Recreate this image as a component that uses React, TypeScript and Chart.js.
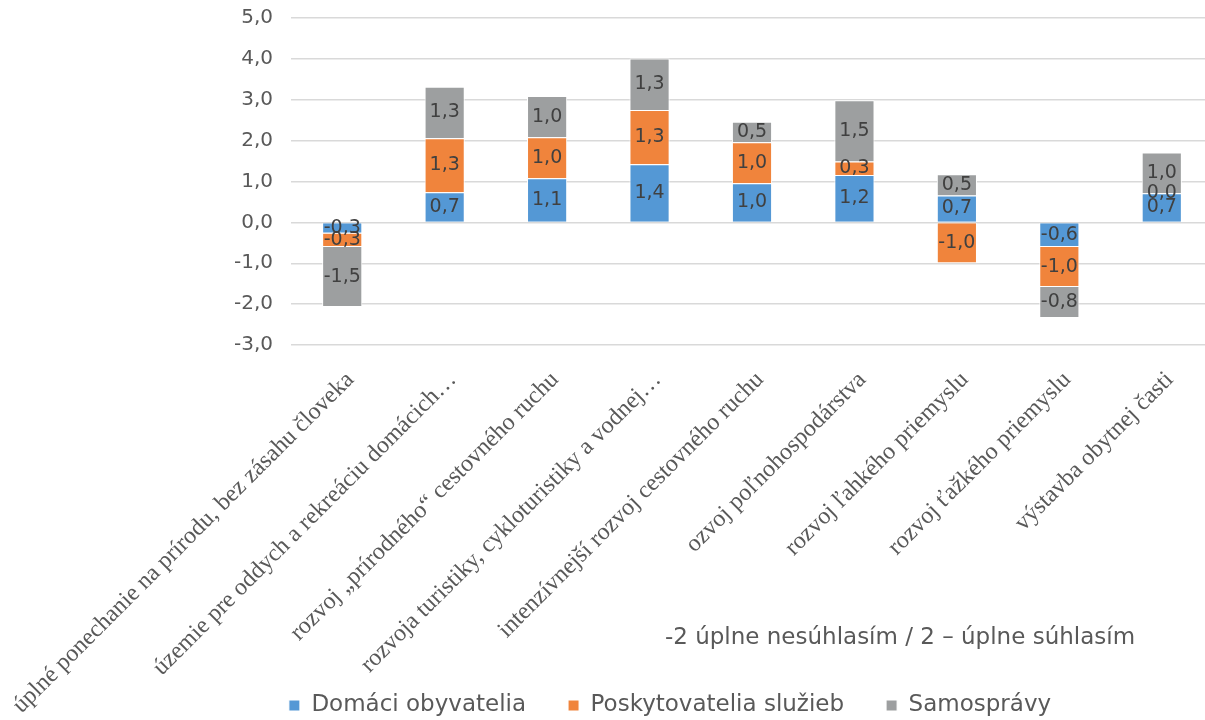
import React, { useEffect, useRef } from "react";
import { Chart, registerables } from "chart.js";
Chart.register(...registerables);

const categories = [
  "úplné ponechanie na prírodu, bez zásahu človeka",
  "územie pre oddych a rekreáciu domácich…",
  "rozvoj „prírodného“ cestovného ruchu",
  "rozvoja turistiky, cykloturistiky a vodnej…",
  "intenzívnejší rozvoj cestovného ruchu",
  "ozvoj poľnohospodárstva",
  "rozvoj ľahkého priemyslu",
  "rozvoj ťažkého priemyslu",
  "výstavba obytnej časti",
];

const domaciObyvatelia = [-0.27, 0.74, 1.08, 1.42, 0.96, 1.16, 0.66, -0.6, 0.71];
const poskytovateliaSluzieb = [-0.33, 1.32, 1.0, 1.33, 1.0, 0.33, -1.0, -0.98, 0.0];
const samospravy = [-1.47, 1.26, 1.01, 1.26, 0.5, 1.5, 0.52, -0.76, 1.0];

const seriesNames = ["Domáci obyvatelia", "Poskytovatelia služieb", "Samosprávy"];
const axisNote = "-2 úplne nesúhlasím / 2 – úplne súhlasím";

const yMin = -3;
const yMax = 5;

const SANS = '"DejaVu Sans", sans-serif';
const fmt = (v: number) => v.toFixed(1).replace(".", ",");

const valueLabels = {
  id: "valueLabels",
  afterDatasetsDraw(chart: any) {
    const ctx = chart.ctx;
    ctx.save();
    ctx.font = `19px ${SANS}`;
    ctx.fillStyle = "#404040";
    ctx.textAlign = "center";
    ctx.textBaseline = "middle";
    chart.data.datasets.forEach((ds: any, i: number) => {
      const meta = chart.getDatasetMeta(i);
      meta.data.forEach((el: any, j: number) => {
        const v = ds.data[j];
        const p = el.getProps(["x", "y", "base"], true);
        ctx.fillText(fmt(v), p.x, (p.y + p.base) / 2);
      });
    });
    ctx.restore();
  },
};

// let the rotated category labels run down past the axis box (no clipping)
const unclipX = {
  id: "unclipX",
  afterLayout(chart: any) {
    const x = chart.scales.x;
    if (x) x.bottom = chart.height;
  },
};

export default function App() {
  const ref = useRef<HTMLCanvasElement>(null);
  useEffect(() => {
    if (!ref.current) return;
    const chart = new Chart(ref.current, {
      type: "bar",
      data: {
        labels: categories,
        datasets: [
          { label: seriesNames[0], data: domaciObyvatelia, backgroundColor: "#5498D5" },
          { label: seriesNames[1], data: poskytovateliaSluzieb, backgroundColor: "#F0843C" },
          { label: seriesNames[2], data: samospravy, backgroundColor: "#9D9FA0" },
        ].map((d) => ({
          ...d,
          borderColor: "#ffffff",
          borderWidth: 1,
          categoryPercentage: 1,
          barPercentage: 0.392,
        })),
      },
      options: {
        responsive: false,
        animation: false,
        layout: { padding: { left: 127, top: 18, right: 0, bottom: 0 } },
        plugins: {
          tooltip: { enabled: false },
          legend: {
            position: "bottom",
            labels: {
              boxWidth: 11,
              boxHeight: 11,
              padding: 42,
              color: "#595959",
              font: { family: SANS, size: 23 },
            },
          },
        },
        scales: {
          x: {
            stacked: true,
            grid: { display: false },
            border: { display: false },
            ticks: {
              autoSkip: false,
              minRotation: 45,
              maxRotation: 45,
              padding: 13,
              labelOffset: 8,
              color: "#595959",
              font: { family: '"Liberation Serif", serif', size: 24 },
            },
            afterFit: (s: any) => {
              s.height = 307;
              s.paddingLeft = 0;
              s.paddingRight = 0;
            },
          },
          y: {
            stacked: true,
            min: yMin,
            max: yMax,
            border: { display: false },
            grid: { color: "#d9d9d9", lineWidth: 1.5, drawTicks: false },
            ticks: {
              stepSize: 1,
              padding: 18,
              color: "#595959",
              font: { family: SANS, size: 20 },
              callback: (v: any) => fmt(Number(v)),
            },
            afterFit: (s: any) => {
              s.width = 164;
              s.paddingTop = 0;
              s.paddingBottom = 0;
            },
          },
        },
      },
      plugins: [valueLabels, unclipX],
    });
    return () => chart.destroy();
  }, []);

  return (
    <div style={{ position: "absolute", left: 0, top: 0, width: 1205, height: 720, overflow: "hidden", background: "#fff" }}>
      <canvas ref={ref} width={1213} height={727} style={{ display: "block" }} />
      <div
        style={{
          position: "absolute",
          left: 550,
          top: 621,
          width: 700,
          textAlign: "center",
          font: `23px ${SANS}`,
          lineHeight: "30px",
          color: "#595959",
        }}
      >
        {axisNote}
      </div>
    </div>
  );
}
